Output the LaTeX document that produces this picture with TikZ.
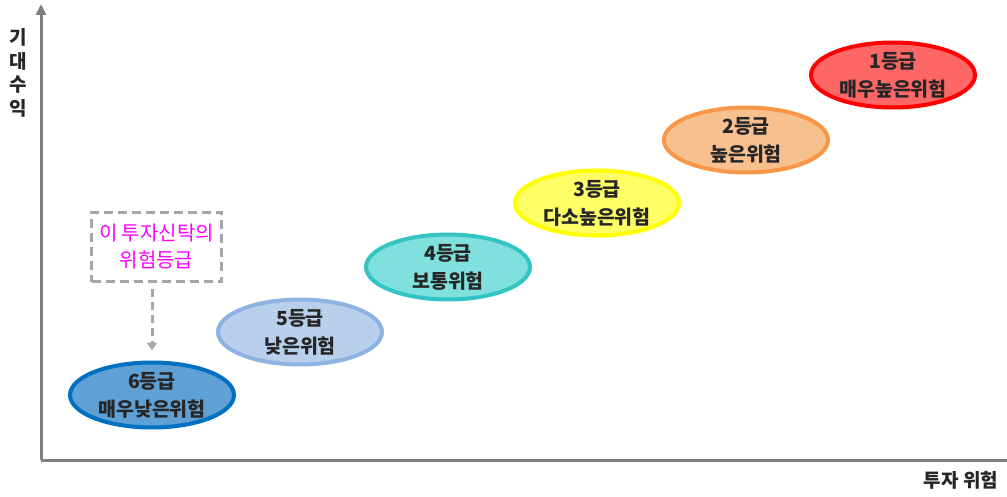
\documentclass[tikz,border=0pt]{standalone}
\usepackage{fontspec}
\setmainfont{Noto Sans CJK KR}
\newfontfamily\kr{Noto Sans CJK KR}
\usetikzlibrary{arrows.meta,shapes.geometric}
\definecolor{axisgray}{HTML}{808080}
\definecolor{boxgray}{HTML}{A6A6A6}
\definecolor{f6}{HTML}{5FA0D5}\definecolor{d6}{HTML}{0070C0}
\definecolor{f5}{HTML}{B9D0EC}\definecolor{d5}{HTML}{8DB3E2}
\definecolor{f4}{HTML}{80E0DD}\definecolor{d4}{HTML}{33C4C4}
\definecolor{f3}{HTML}{FFFF66}\definecolor{d3}{HTML}{FFFF00}
\definecolor{f2}{HTML}{F9C08F}\definecolor{d2}{HTML}{F79646}
\definecolor{f1}{HTML}{FF6666}\definecolor{d1}{HTML}{FF0000}
\definecolor{mag}{HTML}{FF00FF}
\tikzset{
  grade/.style={ellipse, minimum width=164pt, minimum height=62pt, inner sep=0pt, line width=4pt, align=center, font=\kr\bfseries\fontsize{19.5}{28}\selectfont, text=black!85},
  axisline/.style={draw=axisgray, line width=3pt},
  lbl/.style={font=\kr\bfseries\fontsize{19}{20}\selectfont, text=black!85, inner sep=0pt}
}
\begin{document}
\begin{tikzpicture}[x=1pt,y=-1pt]
\useasboundingbox (0,0) rectangle (1007,497);
\coordinate (o) at (41,460);
\coordinate (ytop) at (41,4);
\coordinate (xend) at (1007,460);
\draw[axisline, -{Triangle[length=11pt,width=10pt]}] (o) -- (ytop);
\draw[axisline] (o) -- (xend);
\node[lbl, align=center, font=\kr\bfseries\fontsize{19}{23.5}\selectfont] (ylab) at (18,73) {기\\대\\수\\익};
\node[lbl] (xlab) at (961,480) {투자 위험};

\node[grade, fill=f6, draw=d6] (g6) at (152,395) {6등급\\매우낮은위험};
\node[grade, fill=f5, draw=d5] (g5) at (300,332) {5등급\\낮은위험};
\node[grade, fill=f4, draw=d4] (g4) at (448,267) {4등급\\보통위험};
\node[grade, fill=f3, draw=d3] (g3) at (597,203) {3등급\\다소높은위험};
\node[grade, fill=f2, draw=d2] (g2) at (746,140) {2등급\\높은위험};
\node[grade, fill=f1, draw=d1] (g1) at (893,75) {1등급\\매우높은위험};

\node[draw=boxgray, dash pattern=on 9pt off 5pt, line width=3.5pt, minimum width=130pt, minimum height=69pt, align=center, inner sep=0pt, text=mag, font=\kr\fontsize{20}{27}\selectfont] (box) at (156.5,247) {이 투자신탁의\\위험등급};
\coordinate (arrstart) at ([yshift=-6pt]box.south -| g6);
\coordinate (arrend) at ([yshift=10pt]g6.north);
\draw[draw=boxgray, line width=3pt, dash pattern=on 8pt off 5pt, -{Triangle[length=8pt,width=10pt]}] (arrstart) -- (arrend);
\end{tikzpicture}
\end{document}
